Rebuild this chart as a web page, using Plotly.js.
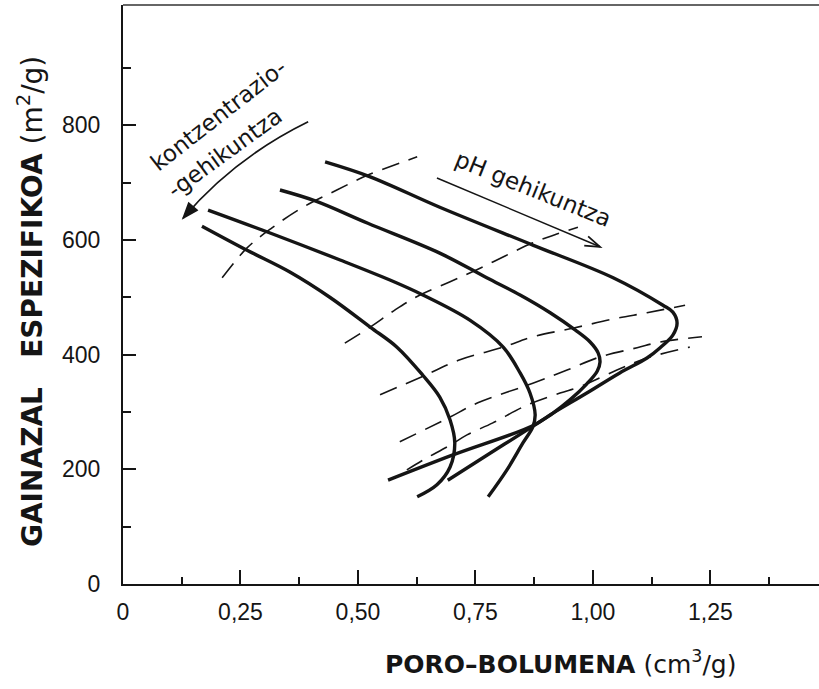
<!DOCTYPE html>
<html>
<head>
<meta charset="utf-8">
<script src="https://cdn.plot.ly/plotly-3.0.1.min.js"></script>
<style>html,body{margin:0;padding:0;background:#fff;}#chart{width:819px;height:689px;}</style>
</head>
<body>
<div id="chart"></div>
<script>
// ---- tick labels ----
const xTickVals = [0, 0.25, 0.5, 0.75, 1.0, 1.25];
const xTickText = ['0', '0,25', '0,50', '0,75', '1,00', '1,25'];
const xMinorVals = [0.125, 0.375, 0.625, 0.875, 1.125, 1.375];
const yTickVals = [0, 200, 400, 600, 800];
const yTickText = ['0', '200', '400', '600', '800'];
const yMinorVals = [100, 300, 500, 700, 900];

// ---- solid curves (poro-bolumena cm3/g, gainazal espezifikoa m2/g) ----
const curve1X = [0.168, 0.264, 0.355, 0.440, 0.526, 0.583, 0.638, 0.674, 0.696, 0.706, 0.696, 0.668, 0.626];
const curve1Y = [624, 582, 544, 500, 448, 413, 364, 326, 286, 246, 204, 173, 152];
const curve2X = [0.181, 0.313, 0.462, 0.568, 0.638, 0.738, 0.809, 0.845, 0.866, 0.877, 0.872, 0.851, 0.817, 0.777];
const curve2Y = [652, 612, 565, 530, 504, 460, 413, 368, 333, 295, 274, 246, 199, 152];
const curve3X = [0.334, 0.409, 0.521, 0.674, 0.774, 0.845, 0.909, 0.962, 0.994, 1.011, 1.015, 1.009, 0.987, 0.951, 0.915, 0.870, 0.781, 0.691];
const curve3Y = [687, 668, 629, 577, 534, 504, 473, 443, 422, 403, 387, 371, 349, 321, 298, 274, 228, 181];
const curve4X = [0.430, 0.526, 0.674, 0.872, 1.043, 1.149, 1.170, 1.179, 1.170, 1.143, 1.115, 1.057, 0.987, 0.915, 0.872, 0.702, 0.564];
const curve4Y = [736, 710, 657, 591, 534, 486, 474, 455, 434, 412, 394, 368, 333, 298, 276, 225, 181];

// ---- dashed iso-lines ----
const dash1X = [0.211, 0.264, 0.317, 0.381, 0.455, 0.521, 0.589, 0.626];
const dash1Y = [534, 586, 621, 656, 687, 713, 734, 745];
const dash2X = [0.472, 0.526, 0.579, 0.632, 0.696, 0.753, 0.813, 0.872, 0.919, 0.968];
const dash2Y = [420, 448, 478, 504, 527, 548, 572, 595, 609, 622];
const dash3X = [0.547, 0.643, 0.717, 0.809, 0.872, 0.957, 1.043, 1.115, 1.196];
const dash3Y = [330, 364, 391, 413, 431, 446, 462, 473, 486];
const dash4X = [0.589, 0.691, 0.755, 0.872, 0.945, 1.015, 1.094, 1.143, 1.232];
const dash4Y = [248, 289, 316, 350, 373, 396, 412, 422, 431];
const dash5X = [0.604, 0.638, 0.696, 0.732, 0.787, 0.860, 0.930, 0.972, 1.051, 1.115, 1.206];
const dash5Y = [199, 216, 242, 260, 281, 312, 333, 344, 373, 394, 413];

const solidCurves = [[curve1X, curve1Y], [curve2X, curve2Y], [curve3X, curve3Y], [curve4X, curve4Y]];
const dashedLines = [[dash1X, dash1Y], [dash2X, dash2Y], [dash3X, dash3Y], [dash4X, dash4Y], [dash5X, dash5Y]];

const ink = '#151515';
const traces = [];
dashedLines.forEach(([x, y]) => traces.push({
  x: x, y: y, type: 'scatter', mode: 'lines', hoverinfo: 'skip',
  line: {color: ink, width: 1.6, dash: '18px,10px', shape: 'spline', smoothing: 1}
}));
solidCurves.forEach(([x, y]) => traces.push({
  x: x, y: y, type: 'scatter', mode: 'lines', hoverinfo: 'skip',
  line: {color: ink, width: 3.4, shape: 'spline', smoothing: 1}
}));

// ---- axis ranges / plot box ----
const xRange = [0, 1.481];
const yRange = [0, 1009.6];
const plotW = 696, plotH = 579;
const pxX = plotW / (xRange[1] - xRange[0]);
const pxY = plotH / (yRange[1] - yRange[0]);

// ---- annotation arrows (data coordinates) ----
const concArc = {start: [0.394, 806], ctrl: [0.237, 743], end: [0.128, 638]};
const phArrow = {tail: [0.668, 708], head: [1.015, 588]};

function headPath(head, from, len, half, closed) {
  // direction in pixel space (y up)
  const dx = (head[0] - from[0]) * pxX, dy = (head[1] - from[1]) * pxY;
  const n = Math.hypot(dx, dy), ux = dx / n, uy = dy / n;
  const bx = -ux * len, by = -uy * len;
  const p1 = [head[0] + (bx - uy * half) / pxX, head[1] + (by + ux * half) / pxY];
  const p2 = [head[0] + (bx + uy * half) / pxX, head[1] + (by - ux * half) / pxY];
  return 'M ' + p1.join(',') + ' L ' + head.join(',') + ' L ' + p2.join(',') + (closed ? ' Z' : '');
}

const annoFont = {family: 'DejaVu Sans, sans-serif', size: 23, color: ink};
const titleFont = {family: 'DejaVu Sans, sans-serif', size: 25, color: ink};
const yTitleFont = {family: 'DejaVu Sans, sans-serif', size: 28, color: ink};

const layout = {
  width: 819, height: 689,
  margin: {l: 123, r: 0, t: 5, b: 105},
  paper_bgcolor: '#fff', plot_bgcolor: '#fff',
  showlegend: false,
  xaxis: {
    range: xRange, showgrid: false, zeroline: false,
    showline: true, linecolor: ink, linewidth: 2,
    tickmode: 'array', tickvals: xTickVals, ticktext: xTickText,
    ticks: 'inside', ticklen: 14, tickwidth: 2, tickcolor: ink,
    minor: {tickmode: 'array', tickvals: xMinorVals, ticks: 'inside', ticklen: 7, tickwidth: 2, tickcolor: ink, showgrid: false},
    tickfont: {family: 'Liberation Sans, Arial, sans-serif', size: 23, color: ink},
    ticklabelstandoff: 6
  },
  yaxis: {
    range: yRange, showgrid: false, zeroline: false,
    showline: true, linecolor: ink, linewidth: 2,
    tickmode: 'array', tickvals: yTickVals, ticktext: yTickText,
    ticks: 'inside', ticklen: 13, tickwidth: 2, tickcolor: ink,
    minor: {tickmode: 'array', tickvals: yMinorVals, ticks: 'inside', ticklen: 8, tickwidth: 2, tickcolor: ink, showgrid: false},
    tickfont: {family: 'Liberation Sans, Arial, sans-serif', size: 23, color: ink},
    ticklabelstandoff: 16
  },
  shapes: [
    {type: 'line', xref: 'paper', yref: 'paper', x0: 0, x1: 1, y0: 1, y1: 1, line: {color: '#666', width: 2}},
    {type: 'path', xref: 'x', yref: 'y',
     path: 'M ' + concArc.start.join(',') + ' Q ' + concArc.ctrl.join(',') + ' ' + concArc.end.join(','),
     line: {color: ink, width: 1.7}},
    {type: 'path', xref: 'x', yref: 'y', path: headPath(concArc.end, concArc.ctrl, 15, 5.5, true),
     fillcolor: ink, line: {color: ink, width: 1.5}},
    {type: 'line', xref: 'x', yref: 'y', x0: phArrow.tail[0], y0: phArrow.tail[1], x1: phArrow.head[0], y1: phArrow.head[1],
     line: {color: ink, width: 1.5}},
    {type: 'path', xref: 'x', yref: 'y', path: headPath(phArrow.head, phArrow.tail, 15, 5, false),
     line: {color: ink, width: 1.8}}
  ],
  annotations: [
    {x: 0.203, y: 818, xref: 'x', yref: 'y', text: 'kontzentrazio-', textangle: -38, showarrow: false,
     xanchor: 'center', yanchor: 'middle', font: annoFont},
    {x: 0.215, y: 752, xref: 'x', yref: 'y', text: '-gehikuntza', textangle: -36, showarrow: false,
     xanchor: 'center', yanchor: 'middle', font: annoFont},
    {x: 0.873, y: 688, xref: 'x', yref: 'y', text: 'pH gehikuntza', textangle: 22, showarrow: false,
     xanchor: 'center', yanchor: 'middle', font: annoFont},
    {x: -0.1336, y: 0.487, xref: 'paper', yref: 'paper', textangle: -90, showarrow: false,
     xanchor: 'center', yanchor: 'middle', font: yTitleFont,
     text: '<b>GAINAZAL\u00a0\u00a0\u00a0ESPEZIFIKOA</b> (m<sup>2</sup>/g)'},
    {x: 0.629, y: -0.1364, xref: 'paper', yref: 'paper', showarrow: false,
     xanchor: 'center', yanchor: 'middle', font: titleFont,
     text: '<b>PORO\u2013BOLUMENA</b> (cm<sup>3</sup>/g)'}
  ]
};

Plotly.newPlot('chart', traces, layout, {staticPlot: true, displayModeBar: false});
</script>
</body>
</html>
